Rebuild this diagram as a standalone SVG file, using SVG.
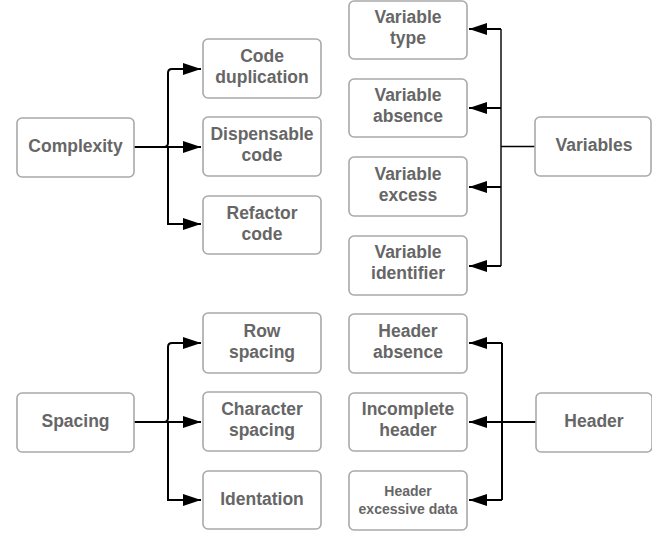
<svg xmlns="http://www.w3.org/2000/svg" width="652" height="536" viewBox="0 0 652 536">
<style>
.box{fill:#fff;stroke:#a9a9a9;stroke-width:1.6}
.t{font-family:"Liberation Sans",Arial,sans-serif;font-weight:bold;font-size:17.5px;fill:#666;text-anchor:middle}
.s{font-size:14px}
.c{fill:none;stroke:#000;stroke-width:2}
.thin{fill:none;stroke:#000;stroke-width:1.4}
</style>
<defs>
<marker id="ah" markerUnits="userSpaceOnUse" markerWidth="20" markerHeight="12" refX="18" refY="6" orient="auto">
<path d="M0,0 L18,6 L0,12 Z" fill="#000"/>
</marker>
</defs>
<rect width="652" height="536" fill="#fff"/>
<g id="connectors">
<path class="c" d="M134,147 H164 Q168,147 168,143 V73 Q168,69 172,69 H201" marker-end="url(#ah)"/>
<path class="c" d="M134,147 H201" marker-end="url(#ah)"/>
<path class="c" d="M168,147 V224 H201" marker-end="url(#ah)"/>
<path class="thin" d="M535,146.5 H501 M501,29 V266"/>
<path class="c" d="M501,29 H469" marker-end="url(#ah)"/>
<path class="c" d="M501,108 H469" marker-end="url(#ah)"/>
<path class="c" d="M501,187 H469" marker-end="url(#ah)"/>
<path class="c" d="M501,266 H469" marker-end="url(#ah)"/>
<path class="c" d="M134,422 H164 Q168,422 168,418 V347 Q168,343 172,343 H201" marker-end="url(#ah)"/>
<path class="c" d="M134,422 H201" marker-end="url(#ah)"/>
<path class="c" d="M168,422 V500 H201" marker-end="url(#ah)"/>
<path class="c" d="M502,343 V500" />
<path class="c" d="M502,343 H469" marker-end="url(#ah)"/>
<path class="c" d="M536,422 H469" marker-end="url(#ah)"/>
<path class="c" d="M502,500 H469" marker-end="url(#ah)"/>
</g>
<g id="complexity"><rect class="box" x="17" y="118" width="117" height="59" rx="5"/><text class="t" x="75.5" y="152">Complexity</text></g>
<g id="code-duplication"><rect class="box" x="203" y="39" width="118" height="59" rx="5"/><text class="t" x="262" y="62">Code</text><text class="t" x="262" y="83">duplication</text></g>
<g id="dispensable-code"><rect class="box" x="203" y="117" width="118" height="59" rx="5"/><text class="t" x="262" y="140">Dispensable</text><text class="t" x="262" y="161">code</text></g>
<g id="refactor-code"><rect class="box" x="203" y="196" width="118" height="58" rx="5"/><text class="t" x="262" y="219">Refactor</text><text class="t" x="262" y="240">code</text></g>
<g id="variable-type"><rect class="box" x="349" y="1" width="118" height="58" rx="5"/><text class="t" x="408" y="23">Variable</text><text class="t" x="408" y="44">type</text></g>
<g id="variable-absence"><rect class="box" x="349" y="79" width="118" height="58" rx="5"/><text class="t" x="408" y="101">Variable</text><text class="t" x="408" y="122">absence</text></g>
<g id="variable-excess"><rect class="box" x="349" y="157" width="118" height="59" rx="5"/><text class="t" x="408" y="180">Variable</text><text class="t" x="408" y="201">excess</text></g>
<g id="variable-identifier"><rect class="box" x="349" y="236" width="118" height="59" rx="5"/><text class="t" x="408" y="258">Variable</text><text class="t" x="408" y="279">identifier</text></g>
<g id="variables"><rect class="box" x="535" y="117" width="116" height="59" rx="5"/><text class="t" x="594" y="151">Variables</text></g>
<g id="spacing"><rect class="box" x="17" y="393" width="117" height="59" rx="5"/><text class="t" x="75.5" y="427">Spacing</text></g>
<g id="row-spacing"><rect class="box" x="203" y="313" width="118" height="60" rx="5"/><text class="t" x="262" y="337">Row</text><text class="t" x="262" y="358">spacing</text></g>
<g id="character-spacing"><rect class="box" x="203" y="392" width="118" height="59" rx="5"/><text class="t" x="262" y="415">Character</text><text class="t" x="262" y="436">spacing</text></g>
<g id="identation"><rect class="box" x="203" y="471" width="118" height="58" rx="5"/><text class="t" x="262" y="505">Identation</text></g>
<g id="header-absence"><rect class="box" x="349" y="314" width="118" height="59" rx="5"/><text class="t" x="408" y="337">Header</text><text class="t" x="408" y="358">absence</text></g>
<g id="incomplete-header"><rect class="box" x="349" y="393" width="118" height="58" rx="5"/><text class="t" x="408" y="415">Incomplete</text><text class="t" x="408" y="436">header</text></g>
<g id="header-excessive-data"><rect class="box" x="349" y="471" width="118" height="59" rx="5"/><text class="t s" x="408" y="496">Header</text><text class="t s" x="408" y="514">excessive data</text></g>
<g id="header"><rect class="box" x="536" y="393" width="116" height="59" rx="5"/><text class="t" x="594" y="427">Header</text></g>
</svg>
